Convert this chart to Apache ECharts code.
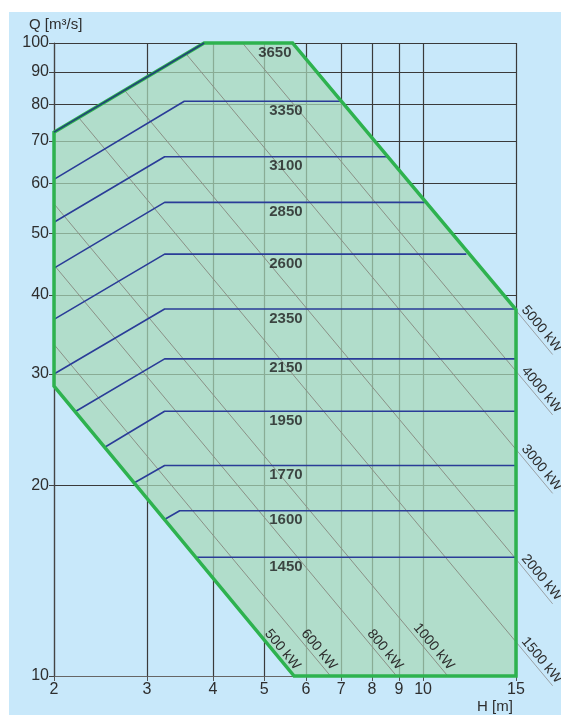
<!DOCTYPE html>
<html>
<head>
<meta charset="utf-8">
<title>Turbine operating range</title>
<script src="https://cdn.jsdelivr.net/npm/echarts@6/dist/echarts.min.js"></script>
<style>
  html, body { margin: 0; padding: 0; background: #ffffff; }
  #wrap { position: relative; width: 561px; height: 715px; overflow: hidden; }
  #panel { position: absolute; left: 9px; top: 12px; right: 0; bottom: 0; background: #c8e8fa; }
  #chart { position: absolute; left: 0; top: 0; width: 561px; height: 715px; }
</style>
</head>
<body>
<div id="wrap"><div id="panel"></div><div id="chart"></div></div>
<script>
// Axis ticks: head H [m] and discharge Q [m3/s], both logarithmic
const headTicks = [2, 3, 4, 5, 6, 7, 8, 9, 10, 15];
const flowTicks = [10, 20, 30, 40, 50, 60, 70, 80, 90, 100];

// Operating envelope, [H, Q]
const envelope = [[2, 72.3], [3.85, 100], [5.66, 100], [15, 37.9], [15, 10], [5.7, 10], [2, 28.7]];

// Runner diameters [mm] and their limit curves, [H, Q]
const diameters = ['3650', '3350', '3100', '2850', '2600', '2350', '2150', '1950', '1770', '1600', '1450'];
const diameterCurves = [
  [[2, 72.3], [3.85, 100]],
  [[2, 60.9], [3.53, 80.9], [7.0, 80.9]],
  [[2, 52.1], [3.24, 66.1], [8.57, 66.1]],
  [[2, 44.1], [3.24, 56.0], [10.07, 56.0]],
  [[2, 36.6], [3.24, 46.4], [12.08, 46.4]],
  [[2, 30.0], [3.24, 38.0], [15, 38.0]],
  [[2.2, 26.2], [3.24, 31.7], [15, 31.7]],
  [[2.5, 23.0], [3.24, 26.2], [15, 26.2]],
  [[2.84, 20.2], [3.24, 21.5], [15, 21.5]],
  [[3.25, 17.7], [3.46, 18.24], [15, 18.24]],
  [[3.72, 15.4], [15, 15.4]]
];
const diameterLevels = [100, 80.9, 66.1, 56.0, 46.4, 38.0, 31.7, 26.2, 21.5, 18.24, 15.4];

// Output power lines [kW]: ends across the plot and the tail beyond H = 15
const powerKW = [500, 600, 800, 1000, 1500, 2000, 3000, 4000, 5000];
const powerFrom = [[2, 28.5], [2, 33.4], [2, 44.6], [2, 55.7], [2, 84.9], [2.29, 100], [3.42, 100], [4.55, 100], [5.67, 100]];
const powerTo = [[5.7, 10], [6.68, 10], [8.91, 10], [11.14, 10], [15, 11.32], [15, 15.3], [15, 22.8], [15, 30.3], [15, 37.8]];
const powerTail = [null, null, null, null, [17.6, 9.65], [17.6, 13.0], [17.6, 19.43], [17.6, 25.85], [17.6, 32.2]];

const FONT = '"Liberation Sans", Arial, Helvetica, sans-serif';
const BLUE = '#2a3c98';
const GREEN = '#2eb24f';

const chart = echarts.init(document.getElementById('chart'), null, { renderer: 'canvas' });

function envelopePoints(api) {
  return envelope.map(p => api.coord(p));
}

const series = [];

// shaded envelope
series.push({
  type: 'custom',
  name: 'envelope-fill',
  z: 2,
  silent: true,
  data: [[2, 10]],
  renderItem: function (params, api) {
    return {
      type: 'polygon',
      shape: { points: envelopePoints(api) },
      style: { fill: 'rgba(168,216,184,0.72)', stroke: 'none' }
    };
  }
});

// iso-power lines, clipped to the envelope, with their labels
series.push({
  type: 'custom',
  name: 'power',
  z: 3,
  silent: true,
  dimensions: ['h1', 'q1', 'h2', 'q2', 'kw'],
  data: powerKW.map((kw, i) => [powerFrom[i][0], powerFrom[i][1], powerTo[i][0], powerTo[i][1], kw]),
  renderItem: function (params, api) {
    const i = params.dataIndex;
    const a = api.coord([api.value(0), api.value(1)]);
    const b = api.coord([api.value(2), api.value(3)]);
    const len = Math.hypot(b[0] - a[0], b[1] - a[1]);
    const ux = (b[0] - a[0]) / len, uy = (b[1] - a[1]) / len;
    const nx = uy, ny = -ux;
    const rot = -Math.atan2(uy, ux);
    const text = api.value(4) + ' kW';
    const children = [{
      type: 'line',
      shape: { x1: a[0], y1: a[1], x2: b[0], y2: b[1] },
      style: { stroke: '#8a9086', lineWidth: 1 },
      clipPath: { type: 'polygon', shape: { points: envelopePoints(api) } }
    }];
    const tail = powerTail[i];
    if (tail) {
      const t = api.coord(tail);
      children.push({
        type: 'line',
        shape: { x1: b[0], y1: b[1], x2: t[0], y2: t[1] },
        style: { stroke: '#9aa0a4', lineWidth: 1 }
      });
      children.push({
        type: 'text',
        x: b[0] + ux * 3 + nx * 1,
        y: b[1] + uy * 3 + ny * 1,
        rotation: rot,
        style: { text: text, fill: '#2e2e2e', font: '14px ' + FONT, align: 'left', verticalAlign: 'bottom' }
      });
    } else {
      children.push({
        type: 'text',
        x: b[0] - ux * 4 + nx * 1,
        y: b[1] - uy * 4 + ny * 1,
        rotation: rot,
        style: { text: text, fill: '#2e2e2e', font: '14px ' + FONT, align: 'right', verticalAlign: 'bottom' }
      });
    }
    return { type: 'group', children: children };
  }
});

// runner diameter limit curves
diameterCurves.forEach((curve, i) => {
  series.push({
    type: 'line',
    name: diameters[i],
    data: curve,
    z: i === 0 ? 6 : 4,
    symbol: 'none',
    silent: true,
    clip: false,
    lineStyle: { color: i === 0 ? '#22407a' : BLUE, width: 1.6 }
  });
});

// envelope border
series.push({
  type: 'custom',
  name: 'envelope-border',
  z: 5,
  silent: true,
  data: [[2, 10]],
  renderItem: function (params, api) {
    return {
      type: 'polygon',
      shape: { points: envelopePoints(api) },
      style: { fill: 'none', stroke: GREEN, lineWidth: 3.5, lineJoin: 'miter' }
    };
  }
});

// diameter labels
series.push({
  type: 'scatter',
  name: 'diameter-labels',
  z: 7,
  silent: true,
  symbolSize: 0,
  data: diameters.map((d, i) => ({ value: [i === 0 ? 5.24 : 5.5, diameterLevels[i]], name: d })),
  label: {
    show: true,
    position: 'bottom',
    distance: 2,
    formatter: p => p.name,
    color: '#1e1e1e',
    fontFamily: FONT,
    fontWeight: 'bold',
    fontSize: 15
  }
});

chart.setOption({
  animation: false,
  backgroundColor: 'transparent',
  grid: { left: 54, right: 45, top: 43, bottom: 39, containLabel: false, outerBoundsMode: 'none' },
  xAxis: {
    type: 'log',
    logBase: 10,
    min: 2,
    max: 15,
    axisLine: { show: true, lineStyle: { color: '#666', width: 1.2 } },
    axisTick: { show: true, customValues: headTicks, length: 5, lineStyle: { color: '#555' } },
    axisLabel: { customValues: headTicks, color: '#2e2e2e', fontSize: 16, fontFamily: FONT, margin: 6 },
    splitLine: { show: true, lineStyle: { color: '#3a3a3a', width: 1.2 } },
    minorTick: { show: false },
    minorSplitLine: { show: false }
  },
  yAxis: {
    type: 'log',
    logBase: 10,
    min: 10,
    max: 100,
    axisLine: { show: true, lineStyle: { color: '#444', width: 1.2 } },
    axisTick: { show: true, customValues: flowTicks, length: 5, lineStyle: { color: '#444' } },
    axisLabel: { customValues: flowTicks, color: '#2e2e2e', fontSize: 16, fontFamily: FONT, margin: 5 },
    splitLine: { show: true, lineStyle: { color: '#3a3a3a', width: 1.2 } },
    minorTick: { show: false },
    minorSplitLine: { show: false }
  },
  graphic: [
    { type: 'text', left: 29, top: 17, style: { text: 'Q [m³/s]', fill: '#2e2e2e', font: '15px ' + FONT } },
    { type: 'text', left: 477, top: 699, style: { text: 'H [m]', fill: '#2e2e2e', font: '15px ' + FONT } }
  ],
  series: series
});
</script>
</body>
</html>
